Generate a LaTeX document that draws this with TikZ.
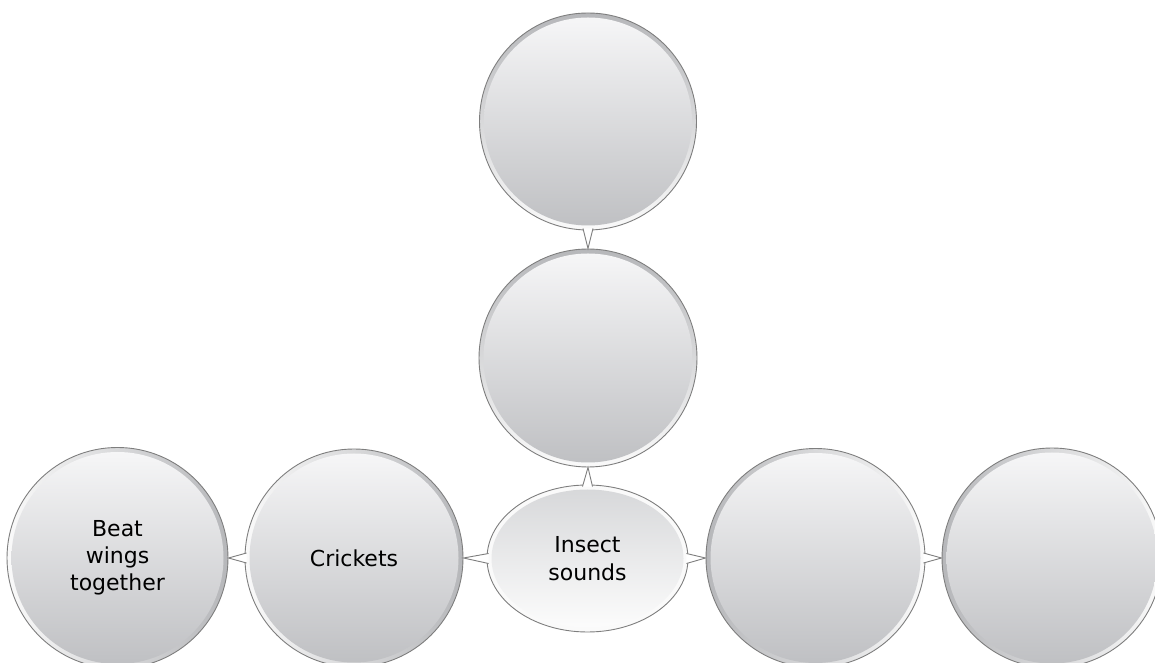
\documentclass[tikz,border=0pt]{standalone}
\usepackage{fontspec}
\setmainfont{DejaVu Sans}
\usetikzlibrary{calc,shapes.geometric}
\definecolor{bord}{HTML}{7E7E7E}
\definecolor{rimdark}{HTML}{B6B7BA}
\definecolor{rimlight}{HTML}{FAFAFA}
\definecolor{intop}{HTML}{F7F7F8}
\definecolor{inbot}{HTML}{BEBFC2}
\definecolor{elltop}{HTML}{D6D7D9}
\definecolor{ellbot}{HTML}{FDFDFD}
\begin{document}
\begin{tikzpicture}[x=1pt,y=1pt,
  bub/.style={circle, draw=bord, line width=0.9pt, inner sep=0pt, minimum size=#1,
    align=center, font=\fontsize{22}{28}\selectfont, text=black},
  inner/.style 2 args={path picture={\path[top color=#1,bottom color=#2]
    let \p1=(path picture bounding box.center), \p2=(path picture bounding box.north east) in
    (\p1) ellipse[x radius={\x2-\x1-4.5pt}, y radius={\y2-\y1-4.5pt}];}},
  rimv/.style={top color=rimdark, bottom color=rimlight},
  riml/.style={left color=rimlight, right color=rimdark},
  rimr/.style={left color=rimdark, right color=rimlight},
  conn/.style={fill=white, draw=bord, line width=0.9pt, line join=miter}]
\useasboundingbox (0,0) rectangle (1155,663);
\clip (0,0) rectangle (1155,663);
% nodes
\node[bub=217pt, rimv, inner={intop}{inbot}] (c1) at (588,541.5) {};
\node[bub=218pt, rimv, inner={intop}{inbot}] (c2) at (588,305) {};
\node[bub=10pt, ellipse, minimum width=201pt, minimum height=147pt,
      fill=rimlight, inner={elltop}{ellbot}] (ell) at (587.5,104.5) {Insect\\sounds};
\node[bub=218pt, riml, inner={intop}{inbot}] (crk) at (354,105) {Crickets};
\node[bub=221pt, riml, inner={intop}{inbot}, font=\fontsize{22}{27}\selectfont] (beat) at (117.5,105) {Beat\\wings\\together};
\node[bub=219pt, rimr, inner={intop}{inbot}] (r1) at (815.5,105) {};
\node[bub=220pt, rimr, inner={intop}{inbot}] (r2) at (1052,105) {};
% connectors
\filldraw[conn] ($(c1.south)+(-5,2)$) -- (c2.north) -- ($(c1.south)+(5,2)$);
\filldraw[conn] ($(ell.north)+(-5,-2)$) -- (c2.south) -- ($(ell.north)+(5,-2)$);
\filldraw[conn] ($(ell.west)+(2,5)$) -- (crk.east) -- ($(ell.west)+(2,-5)$);
\filldraw[conn] ($(crk.west)+(2,5)$) -- (beat.east) -- ($(crk.west)+(2,-5)$);
\filldraw[conn] ($(ell.east)+(-2,5)$) -- (r1.west) -- ($(ell.east)+(-2,-5)$);
\filldraw[conn] ($(r1.east)+(-2,5)$) -- (r2.west) -- ($(r1.east)+(-2,-5)$);
\end{tikzpicture}
\end{document}
